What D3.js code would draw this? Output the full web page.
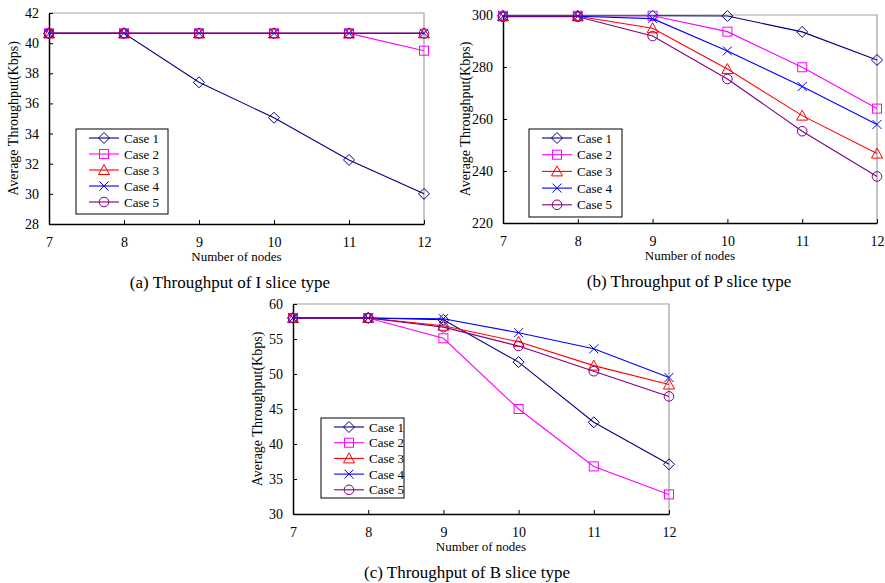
<!DOCTYPE html>
<html>
<head>
<meta charset="utf-8">
<script src="https://cdn.jsdelivr.net/npm/d3@7"></script>
<style>
  body { margin: 0; background: #fff; }
  svg text { font-family: "Liberation Serif", "DejaVu Serif", serif; }
</style>
</head>
<body>
<div id="chart"></div>
<script>
// x categories and series names
const nodes = [7, 8, 9, 10, 11, 12];
const caseNames = ["Case 1", "Case 2", "Case 3", "Case 4", "Case 5"];
const caseColors = ["#000080", "#ff00ff", "#ff0000", "#0000ff", "#800080"];
const caseMarkers = ["diamond", "square", "triangle", "cross", "circle"];

// (a) I slice, one row per case
const iSlice = [
  [40.65, 40.65, 37.4, 35.05, 32.25, 30.0],
  [40.65, 40.65, 40.65, 40.65, 40.65, 39.5],
  [40.65, 40.65, 40.65, 40.65, 40.65, 40.65],
  [40.65, 40.65, 40.65, 40.65, 40.65, 40.65],
  [40.65, 40.65, 40.65, 40.65, 40.65, 40.65]
];
// (b) P slice
const pSlice = [
  [299.7, 299.7, 299.7, 299.6, 293.5, 282.7],
  [299.7, 299.7, 299.7, 293.6, 279.9, 264.0],
  [299.5, 299.5, 294.9, 279.2, 261.3, 246.7],
  [299.5, 299.5, 298.6, 286.2, 272.5, 257.9],
  [299.3, 299.3, 291.9, 275.4, 255.3, 237.9]
];
// (c) B slice
const bSlice = [
  [58.0, 58.0, 57.75, 51.7, 43.1, 37.1],
  [58.0, 58.0, 55.1, 45.0, 36.8, 32.8],
  [58.0, 58.0, 56.9, 54.6, 51.2, 48.5],
  [58.0, 58.0, 57.9, 55.9, 53.6, 49.5],
  [58.0, 58.0, 56.7, 54.0, 50.4, 46.8]
];
const iTicks = [28, 30, 32, 34, 36, 38, 40, 42];
const pTicks = [220, 240, 260, 280, 300];
const bTicks = [30, 35, 40, 45, 50, 55, 60];

const W = 885, H = 583;
const svg = d3.select("#chart").append("svg")
  .attr("width", W).attr("height", H);

const panels = [
  { data: iSlice, ticks: iTicks, caption: "(a) Throughput of I slice type",
    left: 49, right: 424, top: 13, bottom: 224, yTitleX: 13, capX: 230,
    legend: { x: 76, y: 129, w: 92, h: 85, step: 16 } },
  { data: pSlice, ticks: pTicks, caption: "(b) Throughput of P slice type",
    left: 503, right: 877, top: 15, bottom: 223, yTitleX: 465, capX: 689,
    legend: { x: 529, y: 129, w: 93, h: 88, step: 16.7 } },
  { data: bSlice, ticks: bTicks, caption: "(c) Throughput of B slice type",
    left: 293, right: 669, top: 304, bottom: 514, yTitleX: 257, capX: 467,
    legend: { x: 321, y: 418, w: 83, h: 80, step: 15.7 } }
];

function marker(sel, type, color) {
  if (type === "diamond") {
    sel.append("path").attr("d", "M0,-5.5L5.5,0L0,5.5L-5.5,0Z");
  } else if (type === "square") {
    sel.append("rect").attr("x", -4.5).attr("y", -4.5).attr("width", 9).attr("height", 9);
  } else if (type === "triangle") {
    sel.append("path").attr("d", "M0,-5.5L5.5,4.5L-5.5,4.5Z");
  } else if (type === "cross") {
    sel.append("path").attr("d", "M-4.5,-4.5L4.5,4.5M-4.5,4.5L4.5,-4.5");
  } else {
    sel.append("circle").attr("r", 4.8);
  }
  sel.selectAll("*").attr("fill", "none").attr("stroke", color).attr("stroke-width", 1);
}

panels.forEach(function(p) {
  const x = d3.scaleLinear().domain([7, 12]).range([p.left, p.right]);
  const y = d3.scaleLinear().domain(d3.extent(p.ticks)).range([p.bottom, p.top]);
  const g = svg.append("g");

  // grey frame top/right
  g.append("path")
    .attr("d", `M${p.left},${p.top}H${p.right}V${p.bottom}`)
    .attr("fill", "none").attr("stroke", "#a0a0a0").attr("stroke-width", 1.2);

  const xAxis = d3.axisBottom(x).tickValues(nodes).tickFormat(d3.format("d"))
    .tickSize(-4).tickSizeOuter(0).tickPadding(13);
  const yAxis = d3.axisLeft(y).tickValues(p.ticks).tickFormat(d3.format("d"))
    .tickSize(-4).tickSizeOuter(0).tickPadding(10);

  const gx = g.append("g").attr("transform", `translate(0,${p.bottom})`).call(xAxis);
  const gy = g.append("g").attr("transform", `translate(${p.left},0)`).call(yAxis);
  [gx, gy].forEach(function(a) {
    a.attr("font-family", null);
    a.select(".domain").attr("stroke", "#000").attr("stroke-width", 1.5);
    a.selectAll(".tick line").attr("stroke", "#000");
    a.selectAll("text").attr("font-size", 14).attr("fill", "#000");
  });

  // titles
  g.append("text")
    .attr("x", (p.left + p.right) / 2).attr("y", p.bottom + 37)
    .attr("text-anchor", "middle").attr("font-size", 13)
    .text("Number of nodes");
  g.append("text")
    .attr("transform", `translate(${p.yTitleX},${(p.top + p.bottom) / 2}) rotate(-90)`)
    .attr("text-anchor", "middle").attr("dy", "0.35em").attr("font-size", 14)
    .text("Average Throughput(Kbps)");
  g.append("text")
    .attr("x", p.capX).attr("y", p.bottom + 64)
    .attr("text-anchor", "middle").attr("font-size", 17)
    .text(p.caption);

  // series
  const line = d3.line().x(function(d, i) { return x(nodes[i]); }).y(function(d) { return y(d); });
  p.data.forEach(function(vals, k) {
    g.append("path").datum(vals)
      .attr("d", line).attr("fill", "none")
      .attr("stroke", caseColors[k]).attr("stroke-width", 1.1);
    vals.forEach(function(v, i) {
      const m = g.append("g").attr("transform", `translate(${x(nodes[i])},${y(v)})`);
      marker(m, caseMarkers[k], caseColors[k]);
    });
  });

  // legend
  const L = p.legend;
  const lg = g.append("g").attr("transform", `translate(${L.x},${L.y})`);
  lg.append("rect").attr("width", L.w).attr("height", L.h)
    .attr("fill", "#fff").attr("stroke", "#000").attr("stroke-width", 1);
  caseNames.forEach(function(name, k) {
    const cy = 9 + k * L.step;
    lg.append("line").attr("x1", 13).attr("x2", 43).attr("y1", cy).attr("y2", cy)
      .attr("stroke", caseColors[k]).attr("stroke-width", 1.1);
    marker(lg.append("g").attr("transform", `translate(28,${cy})`), caseMarkers[k], caseColors[k]);
    lg.append("text").attr("x", 48).attr("y", cy).attr("dy", "0.35em")
      .attr("font-size", 13).text(name);
  });
});
</script>
</body>
</html>
